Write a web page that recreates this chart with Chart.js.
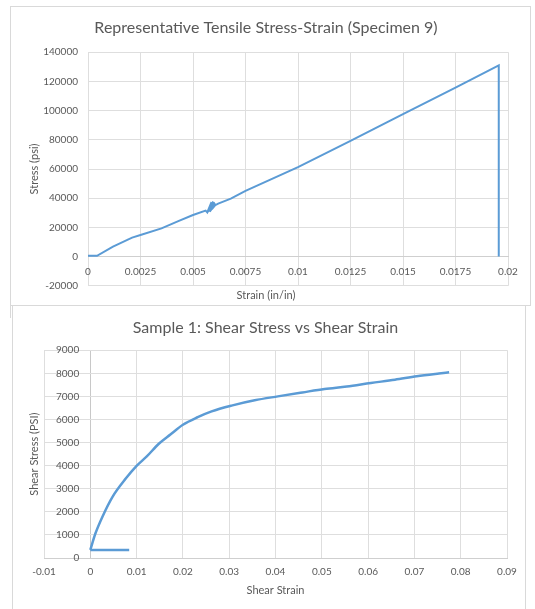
<!DOCTYPE html>
<html>
<head>
<meta charset="utf-8">
<title>Stress-Strain</title>
<script src="https://cdn.jsdelivr.net/npm/chart.js@4.4.0/dist/chart.umd.min.js"></script>
<style>
  body { margin: 0; background: #fff; }
  .frame { position: absolute; border: 1px solid #d9d9d9; box-sizing: border-box; }
  #tensileFrame { left: 10px; top: 6px; width: 521px; height: 300px; }
  #shearFrame { left: 12px; top: 305px; width: 514px; height: 310px; }
  #frameTail { position: absolute; left: 10px; top: 305px; width: 1px; height: 13px; background: #d9d9d9; }
  canvas { position: absolute; }
  #tensileChart { left: 10px; top: 6px; }
  #shearChart { left: 12px; top: 305px; }
</style>
</head>
<body>
<div class="frame" id="tensileFrame"></div>
<div class="frame" id="shearFrame"></div>
<div id="frameTail"></div>
<canvas id="tensileChart" width="520" height="299"></canvas>
<canvas id="shearChart" width="513" height="304"></canvas>
<script>
// Tensile test, specimen 9 (strain in/in, stress psi)
// the zig-zag around 0.0058 is the small blob seen on the original curve
const tensileStrain = [0, 0.00043, 0.00119, 0.0021, 0.0025, 0.0035, 0.0043, 0.005, 0.0056,
    0.00568, 0.00588, 0.00572, 0.00596, 0.00576, 0.006, 0.0058, 0.00604, 0.00584, 0.00606,
    0.0059, 0.00606, 0.0062, 0.0068, 0.0075,
    0.01, 0.0125, 0.015, 0.0175, 0.01956, 0.01956];
const tensileStress = [500, 500, 6800, 13000, 14800, 19300, 24300, 28500, 31500,
    30300, 37300, 30600, 37700, 31000, 37500, 30800, 36800, 31600, 36000,
    32500, 35200, 36300, 39700, 45000,
    61300, 79300, 97600, 115800, 131000, 0];

const tensileXTicks = [0, 0.0025, 0.005, 0.0075, 0.01, 0.0125, 0.015, 0.0175, 0.02];
const tensileXLabels = ["0", "0.0025", "0.005", "0.0075", "0.01", "0.0125", "0.015", "0.0175", "0.02"];
const tensileYTicks = [-20000, 0, 20000, 40000, 60000, 80000, 100000, 120000, 140000];
const tensileYLabels = ["-20000", "0", "20000", "40000", "60000", "80000", "100000", "120000", "140000"];

// Shear test, sample 1: short flat start segment, then the loading curve
const shearBaseStrain = [0, 0.0084];
const shearBaseStress = [350, 350];
const shearStrain = [0, 0.0011, 0.0026, 0.0048, 0.0077, 0.01, 0.0122, 0.0148, 0.0173,
    0.02, 0.0232, 0.0262, 0.0305, 0.0355, 0.0405, 0.0458, 0.0506, 0.0554, 0.0606,
    0.0658, 0.0705, 0.0753, 0.0775];
const shearStress = [350, 1060, 1780, 2650, 3450, 3990, 4400, 4950, 5350,
    5770, 6100, 6350, 6600, 6830, 7000, 7170, 7320, 7430, 7580,
    7720, 7870, 7990, 8040];

const shearXTicks = [-0.01, 0, 0.01, 0.02, 0.03, 0.04, 0.05, 0.06, 0.07, 0.08, 0.09];
const shearXLabels = ["-0.01", "0", "0.01", "0.02", "0.03", "0.04", "0.05", "0.06", "0.07", "0.08", "0.09"];
const shearYTicks = [0, 1000, 2000, 3000, 4000, 5000, 6000, 7000, 8000, 9000];
const shearYLabels = ["0", "1000", "2000", "3000", "4000", "5000", "6000", "7000", "8000", "9000"];

const lineColor = "#5b9bd5";
const textColor = "#595959";
const gridColor = "#dedede";

Chart.defaults.font.family = "Lato, 'Liberation Sans', sans-serif";
Chart.defaults.color = textColor;
Chart.defaults.animation = false;

function toPoints(xs, ys) {
    return xs.map((x, i) => ({ x: x, y: ys[i] }));
}

function fixedTicks(values) {
    return scale => { scale.ticks = values.map(v => ({ value: v })); };
}

// top chart
new Chart(document.getElementById("tensileChart"), {
    type: "scatter",
    data: {
        datasets: [{
            data: toPoints(tensileStrain, tensileStress),
            showLine: true,
            borderColor: lineColor,
            borderWidth: 2,
            pointRadius: 0
        }]
    },
    options: {
        responsive: false,
        layout: { padding: { left: 14, right: 22, top: 0, bottom: 0 } },
        plugins: {
            legend: { display: false },
            tooltip: { enabled: false },
            title: {
                display: true,
                text: "Representative Tensile Stress-Strain (Specimen 9)",
                color: textColor,
                font: { size: 16, weight: "normal" },
                padding: { top: 12, bottom: 15 }
            },
            subtitle: {
                display: true,
                position: "bottom",
                text: "Strain (in/in)",
                color: textColor,
                font: { size: 11 },
                padding: { top: 3, bottom: 3 }
            }
        },
        scales: {
            x: {
                type: "linear",
                position: { y: 0 },
                min: 0,
                max: 0.02,
                afterBuildTicks: fixedTicks(tensileXTicks),
                ticks: {
                    font: { size: 10 },
                    padding: 9,
                    maxRotation: 0,
                    callback: (v, i) => tensileXLabels[i]
                },
                grid: { color: gridColor, drawTicks: false },
                border: { color: "#cfcfcf" }
            },
            y: {
                type: "linear",
                position: "left",
                min: -20000,
                max: 140000,
                afterBuildTicks: fixedTicks(tensileYTicks),
                afterFit: s => { s.width = 64; },
                ticks: {
                    font: { size: 10 },
                    padding: 10,
                    callback: (v, i) => tensileYLabels[i]
                },
                grid: { color: gridColor, drawTicks: false },
                border: { display: false },
                title: { display: true, text: "Stress (psi)", font: { size: 11 }, color: textColor }
            }
        }
    }
});

// bottom chart
new Chart(document.getElementById("shearChart"), {
    type: "scatter",
    data: {
        datasets: [{
            data: toPoints(shearBaseStrain, shearBaseStress),
            showLine: true,
            borderColor: lineColor,
            borderWidth: 2.5,
            pointRadius: 0
        }, {
            data: toPoints(shearStrain, shearStress),
            showLine: true,
            borderColor: lineColor,
            borderWidth: 2.5,
            cubicInterpolationMode: "monotone",
            pointRadius: 0
        }]
    },
    options: {
        responsive: false,
        layout: { padding: { left: 12, right: 18, top: 0, bottom: 8 } },
        plugins: {
            legend: { display: false },
            tooltip: { enabled: false },
            title: {
                display: true,
                text: "Sample 1: Shear Stress vs Shear Strain",
                color: textColor,
                font: { size: 16, weight: "normal" },
                padding: { top: 13, bottom: 13 }
            }
        },
        scales: {
            x: {
                type: "linear",
                position: "bottom",
                min: -0.01,
                max: 0.09,
                afterBuildTicks: fixedTicks(shearXTicks),
                afterFit: s => { s.height = 43; },
                ticks: {
                    font: { size: 10 },
                    padding: 8,
                    maxRotation: 0,
                    callback: (v, i) => shearXLabels[i]
                },
                grid: {
                    color: ctx => (ctx.tick && ctx.tick.value === 0) ? "#c8c8c8" : gridColor,
                    drawTicks: false
                },
                border: { color: "#cfcfcf" },
                title: { display: true, text: "Shear Strain", font: { size: 11 }, color: textColor, padding: { top: 4, bottom: 4 } }
            },
            y: {
                type: "linear",
                position: "left",
                min: 0,
                max: 9000,
                afterBuildTicks: fixedTicks(shearYTicks),
                afterFit: s => { s.width = 20; },
                ticks: {
                    font: { size: 10 },
                    mirror: true,
                    crossAlign: "far",
                    padding: 12,
                    callback: (v, i) => shearYLabels[i]
                },
                grid: { color: gridColor, drawTicks: false },
                border: { display: false },
                title: { display: true, text: "Shear Stress (PSI)", font: { size: 11 }, color: textColor }
            }
        }
    }
});
</script>
</body>
</html>
